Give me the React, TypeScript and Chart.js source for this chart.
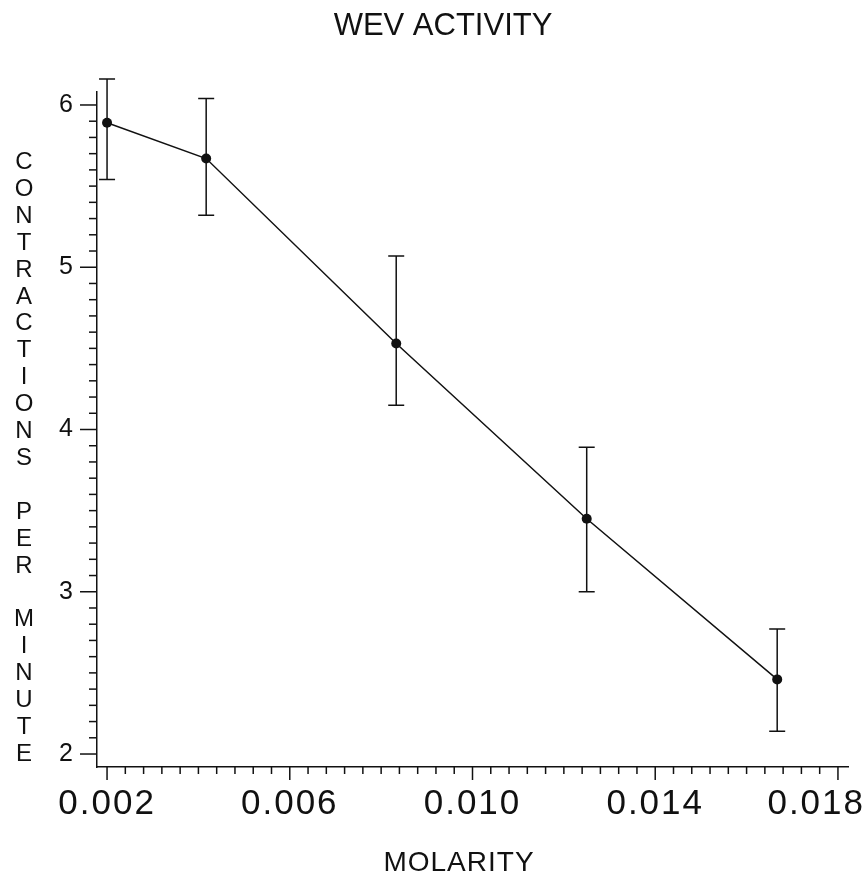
import { useEffect, useRef } from 'react';
import { Chart, registerables } from 'chart.js';

Chart.register(...registerables);

// ---- data ----
const molarity = [0.002, 0.00417, 0.00833, 0.0125, 0.01667];
const contractions = [5.89, 5.67, 4.53, 3.45, 2.46];
const errorHigh = [6.16, 6.04, 5.07, 3.89, 2.77];
const errorLow = [5.54, 5.32, 4.15, 3.0, 2.14];

const xTickLabels = ['0.002', '0.006', '0.010', '0.014', '0.018'];
const yTickLabels = ['2', '3', '4', '5', '6'];
const xMinorPerMajor = 10;
const yMinorPerMajor = 10;

const titleText = 'WEV ACTIVITY';
const xTitleText = 'MOLARITY';
const yTitleText = 'CONTRACTIONS PER MINUTE';

const FONT = "'Liberation Sans', Arial, sans-serif";
const INK = '#111';

function buildTicks(labels: string[], perMajor: number) {
  const vals = labels.map((l) => parseFloat(l));
  const out: number[] = [];
  for (let m = 0; m < vals.length - 1; m++) {
    const step = (vals[m + 1] - vals[m]) / perMajor;
    for (let k = 0; k < perMajor; k++) out.push(vals[m] + k * step);
  }
  out.push(vals[vals.length - 1]);
  return out;
}

function labelFor(labels: string[], value: number, tol: number) {
  const hit = labels.find((l) => Math.abs(parseFloat(l) - value) < tol);
  return hit ?? '';
}

const errorBarsPlugin = {
  id: 'errorBars',
  beforeDatasetsDraw(chart: any) {
    const { ctx } = chart;
    const xs = chart.scales.x;
    const ys = chart.scales.y;
    ctx.save();
    ctx.strokeStyle = INK;
    ctx.lineWidth = 1.5;
    molarity.forEach((m, i) => {
      const px = xs.getPixelForValue(m);
      const top = ys.getPixelForValue(errorHigh[i]);
      const bot = ys.getPixelForValue(errorLow[i]);
      ctx.beginPath();
      ctx.moveTo(px, top);
      ctx.lineTo(px, bot);
      ctx.moveTo(px - 8, top);
      ctx.lineTo(px + 8, top);
      ctx.moveTo(px - 8, bot);
      ctx.lineTo(px + 8, bot);
      ctx.stroke();
    });
    ctx.restore();
  },
};

const axisDecorPlugin = {
  id: 'axisDecor',
  beforeDraw(chart: any) {
    // keep the last x label inside the canvas
    const xs = chart.scales.x;
    const items = xs.getLabelItems();
    const nonEmpty = items.filter((it: any) => it.label !== '');
    const last = nonEmpty[nonEmpty.length - 1];
    if (last) {
      last.options.textAlign = 'right';
      last.options.translation = [chart.width - 2, last.options.translation[1]];
    }
    (chart.ctx as any).letterSpacing = '2px';
  },
  afterDraw(chart: any) {
    const { ctx, chartArea } = chart;
    const xs = chart.scales.x;
    const ys = chart.scales.y;
    ctx.save();
    (ctx as any).letterSpacing = '0px';
    ctx.strokeStyle = INK;
    ctx.lineWidth = 1.5;
    xs.ticks.forEach((t: any) => {
      const px = xs.getPixelForValue(t.value);
      const major = t.label !== '';
      ctx.beginPath();
      ctx.moveTo(px, chartArea.bottom);
      ctx.lineTo(px, chartArea.bottom + (major ? 13 : 7));
      ctx.stroke();
    });
    ys.ticks.forEach((t: any) => {
      const py = ys.getPixelForValue(t.value);
      const major = t.label !== '';
      ctx.beginPath();
      ctx.moveTo(chartArea.left, py);
      ctx.lineTo(chartArea.left - (major ? 17 : 8), py);
      ctx.stroke();
    });

    ctx.fillStyle = INK;
    ctx.textAlign = 'center';
    ctx.textBaseline = 'alphabetic';
    // main title
    ctx.font = `31px ${FONT}`;
    ctx.fillText(titleText, 443, 35);
    // x title
    (ctx as any).letterSpacing = '1px';
    ctx.font = `28px ${FONT}`;
    ctx.fillText(xTitleText, 459, 871);
    (ctx as any).letterSpacing = '0px';
    // y title: stacked upright letters
    ctx.font = `24px ${FONT}`;
    const chars = yTitleText.split('');
    chars.forEach((c, i) => {
      if (c === ' ') return;
      ctx.fillText(c, 24, 169 + i * 26.9);
    });
    ctx.restore();
    (ctx as any).letterSpacing = '0px';
  },
};

export default function App() {
  const ref = useRef<HTMLCanvasElement | null>(null);

  useEffect(() => {
    if (!ref.current) return;
    const xTickVals = buildTicks(xTickLabels, xMinorPerMajor);
    const yTickVals = buildTicks(yTickLabels, yMinorPerMajor);

    const chart = new Chart(ref.current, {
      type: 'line',
      data: {
        datasets: [
          {
            data: molarity.map((m, i) => ({ x: m, y: contractions[i] })),
            borderColor: INK,
            borderWidth: 1.5,
            pointRadius: 5,
            pointBackgroundColor: INK,
            pointBorderColor: INK,
            pointBorderWidth: 0,
            tension: 0,
            fill: false,
          },
        ],
      },
      options: {
        animation: false,
        responsive: false,
        layout: { padding: { top: 92, right: 19, left: 0, bottom: 0 } },
        plugins: {
          legend: { display: false },
          title: { display: false },
          tooltip: { enabled: false },
        },
        scales: {
          x: {
            type: 'linear',
            min: 0.00178,
            max: 0.01822,
            grid: { display: false, drawTicks: false },
            border: { display: true, color: INK, width: 1.5 },
            afterBuildTicks: (scale: any) => {
              scale.ticks = xTickVals.map((v) => ({ value: v }));
            },
            afterFit: (scale: any) => {
              scale.height = 106;
              scale.paddingLeft = 0;
              scale.paddingRight = 0;
            },
            ticks: {
              autoSkip: false,
              maxRotation: 0,
              minRotation: 0,
              padding: 16,
              color: INK,
              font: { family: FONT, size: 35 },
              callback: (v: any) => labelFor(xTickLabels, Number(v), 0.0001),
            },
          },
          y: {
            type: 'linear',
            min: 1.92,
            max: 6.08,
            grid: { display: false, drawTicks: false },
            border: { display: true, color: INK, width: 1.5 },
            afterBuildTicks: (scale: any) => {
              scale.ticks = yTickVals.map((v) => ({ value: v }));
            },
            afterFit: (scale: any) => {
              scale.width = 97;
              scale.paddingTop = 0;
              scale.paddingBottom = 0;
            },
            ticks: {
              autoSkip: false,
              padding: 22,
              color: INK,
              font: { family: FONT, size: 25 },
              callback: (v: any) => labelFor(yTickLabels, Number(v), 0.02),
            },
          },
        },
      },
      plugins: [errorBarsPlugin, axisDecorPlugin],
    });
    return () => chart.destroy();
  }, []);

  return (
    <div style={{ position: 'absolute', left: 0, top: 0, width: 867, height: 873, background: '#fff' }}>
      <canvas ref={ref} width={867} height={873} style={{ display: 'block' }} />
    </div>
  );
}
